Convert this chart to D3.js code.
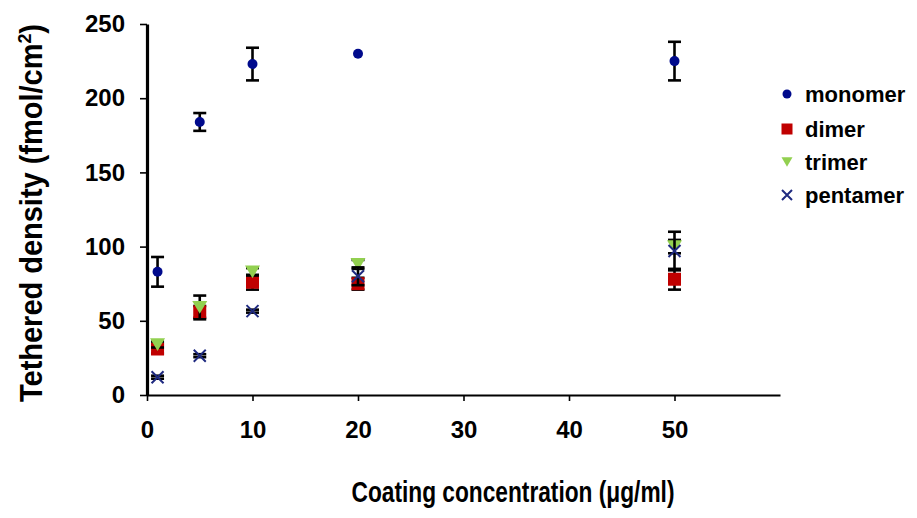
<!DOCTYPE html>
<html>
<head>
<meta charset="utf-8">
<script src="https://cdn.jsdelivr.net/npm/d3@7"></script>
<style>
  html, body { margin: 0; padding: 0; background: #fff; }
  svg { display: block; }
  text { font-family: "Liberation Sans", Arial, sans-serif; font-weight: bold; fill: #000; }
  .title { font-family: "Liberation Sans Narrow", "Liberation Sans", Arial, sans-serif; }
</style>
</head>
<body>
<svg id="chart" width="917" height="518"></svg>
<script>
// ---- data ----
const concentrations = [1, 5, 10, 20, 50];
const seriesNames = ["monomer", "dimer", "trimer", "pentamer"];
const monomer      = [83, 184, 223, 230, 225];
const monomerErr   = [10, 6, 11, 0, 13];
const dimer        = [31, 56, 76, 75, 78];
const dimerErr     = [3, 4, 5, 4, 7];
const trimer       = [34, 59, 83, 88, 100];
const trimerErr    = [2, 8, 2.5, 3, 4.5];
const pentamer     = [12, 26.5, 56.5, 80, 97];
const pentamerErr  = [1, 1, 1, 6, 13];
const xTicks = [0, 10, 20, 30, 40, 50];
const yTicks = [0, 50, 100, 150, 200, 250];
const xTitle = "Coating concentration (μg/ml)";
const yTitle = "Tethered density (fmol/cm";

const seriesValues = [monomer, dimer, trimer, pentamer];
const seriesErrors = [monomerErr, dimerErr, trimerErr, pentamerErr];
const colors = ["#000a8c", "#c00000", "#92d050", "#1f2a80"];

const svg = d3.select("#chart");
const x = d3.scaleLinear().domain([0, 60]).range([147, 780]);
const y = d3.scaleLinear().domain([0, 250]).range([395, 24]);

// axes
const xAxis = svg.append("g").attr("transform", `translate(0,${y(0)})`)
  .call(d3.axisBottom(x).tickValues(xTicks).tickSize(6).tickSizeOuter(0).tickPadding(20));
xAxis.select(".domain").attr("stroke", "#000").attr("stroke-width", 2.2);
xAxis.selectAll(".tick line").attr("stroke", "#000").attr("stroke-width", 1.6);
xAxis.selectAll(".tick text").attr("font-size", 24).attr("font-family", "Liberation Sans, Arial, sans-serif").attr("font-weight", "bold").attr("fill", "#000");

const yAxis = svg.append("g").attr("transform", `translate(${x(0)},0)`)
  .call(d3.axisLeft(y).tickValues(yTicks).tickSize(7).tickSizeOuter(0).tickPadding(15));
yAxis.select(".domain").attr("stroke", "#000").attr("stroke-width", 3.2);
yAxis.selectAll(".tick line").attr("stroke", "#000").attr("stroke-width", 1.6);
yAxis.selectAll(".tick text").attr("font-size", 24).attr("font-family", "Liberation Sans, Arial, sans-serif").attr("font-weight", "bold").attr("fill", "#000");

// titles
svg.append("text").attr("class", "title").attr("x", 513).attr("y", 502).attr("text-anchor", "middle")
  .attr("font-size", 29).attr("textLength", 323).attr("lengthAdjust", "spacingAndGlyphs")
  .text(xTitle);

const yt = svg.append("text").attr("class", "title").attr("transform", "translate(42,213) rotate(-90)")
  .attr("text-anchor", "middle").attr("font-size", 31)
  .attr("textLength", 378).attr("lengthAdjust", "spacingAndGlyphs");
yt.append("tspan").text(yTitle);
yt.append("tspan").attr("dy", -11).attr("font-size", 19).text("2");
yt.append("tspan").attr("dy", 11).text(")");

// marker drawing helper
function marker(g, type, cx, cy, s, color) {
  if (type === 0) {
    g.append("circle").attr("cx", cx).attr("cy", cy).attr("r", s / 2).attr("fill", color);
  } else if (type === 1) {
    g.append("rect").attr("x", cx - s / 2).attr("y", cy - s / 2).attr("width", s).attr("height", s).attr("fill", color);
  } else if (type === 2) {
    const h = s * 0.85;
    g.append("path").attr("d", `M${cx - s / 2},${cy - h / 2}L${cx + s / 2},${cy - h / 2}L${cx},${cy + h / 2}Z`).attr("fill", color);
  } else {
    const r = s / 2;
    g.append("path").attr("d", `M${cx - r},${cy - r}L${cx + r},${cy + r}M${cx - r},${cy + r}L${cx + r},${cy - r}`)
      .attr("stroke", color).attr("stroke-width", 2).attr("fill", "none");
  }
}
const sizes = [10, 13, 15, 12];

// series with error bars
seriesValues.forEach((vals, si) => {
  const g = svg.append("g");
  vals.forEach((v, i) => {
    const e = seriesErrors[si][i];
    const cx = x(concentrations[i]);
    if (e > 0) {
      const eg = g.append("g").attr("stroke", "#000").attr("stroke-width", 2.6);
      eg.append("line").attr("x1", cx).attr("x2", cx).attr("y1", y(v - e)).attr("y2", y(v + e));
      [v - e, v + e].forEach(t => eg.append("line").attr("x1", cx - 6.5).attr("x2", cx + 6.5).attr("y1", y(t)).attr("y2", y(t)));
    }
    marker(g, si, cx, y(v), sizes[si], colors[si]);
  });
});

// legend
const legendY = [94, 129, 162, 195];
const legendSizes = [9, 11, 11, 10];
seriesNames.forEach((name, i) => {
  const g = svg.append("g");
  marker(g, i, 787, legendY[i], legendSizes[i], colors[i]);
  g.append("text").attr("x", 805).attr("y", legendY[i] + 8).attr("font-size", 22).text(name);
});
</script>
</body>
</html>
